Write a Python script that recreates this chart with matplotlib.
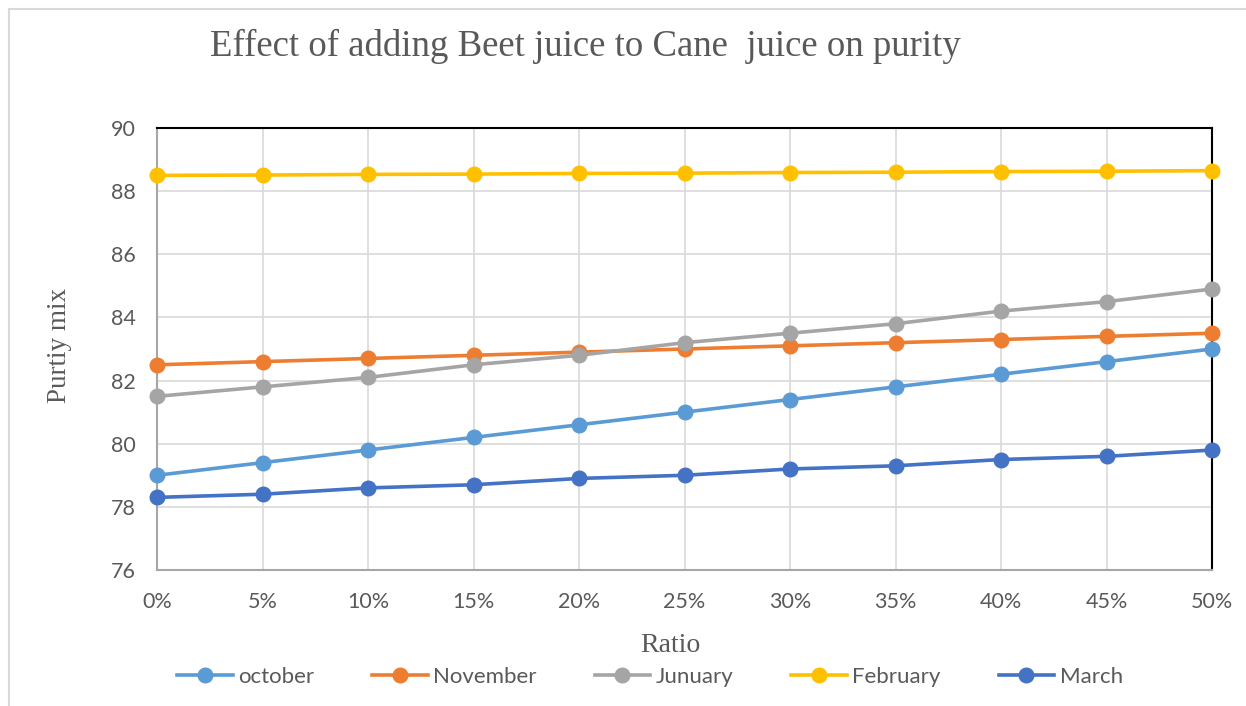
import matplotlib.pyplot as plt
from matplotlib.patches import Rectangle

ratios = ["0%", "5%", "10%", "15%", "20%", "25%", "30%", "35%", "40%", "45%", "50%"]
october = [79.0, 79.4, 79.8, 80.2, 80.6, 81.0, 81.4, 81.8, 82.2, 82.6, 83.0]
november = [82.5, 82.6, 82.7, 82.8, 82.9, 83.0, 83.1, 83.2, 83.3, 83.4, 83.5]
junuary = [81.5, 81.8, 82.1, 82.5, 82.8, 83.2, 83.5, 83.8, 84.2, 84.5, 84.9]
february = [88.50, 88.51, 88.53, 88.54, 88.56, 88.57, 88.59, 88.60, 88.62, 88.63, 88.65]
march = [78.3, 78.4, 78.6, 78.7, 78.9, 79.0, 79.2, 79.3, 79.5, 79.6, 79.8]

series = [
    ("october", october, "#5B9BD5"),
    ("November", november, "#ED7D31"),
    ("Junuary", junuary, "#A5A5A5"),
    ("February", february, "#FFC000"),
    ("March", march, "#4472C4"),
]

text_col = "#595959"
sans = ["Lato", "DejaVu Sans"]
serif = ["Liberation Serif", "DejaVu Serif"]

fig = plt.figure(figsize=(12.46, 7.06), dpi=100)
fig.patches.append(Rectangle((9 / 1246, -0.1), 1.2, 1 - 9 / 706 + 0.1,
                             transform=fig.transFigure, fill=False,
                             edgecolor="#D9D9D9", linewidth=1.5))

ax = fig.add_axes([157 / 1246, 1 - 570 / 706, (1212 - 157) / 1246, (570 - 128) / 706])

x = list(range(len(ratios)))
for name, vals, col in series:
    ax.plot(x, vals, color=col, linewidth=2.6, marker="o", markersize=10.5,
            label=name, clip_on=False, zorder=3)

ax.set_xlim(0, len(ratios) - 1)
ax.set_ylim(76, 90)
ax.set_yticks(range(76, 91, 2))
ax.set_xticks(x)
ax.set_xticklabels(ratios)
ax.grid(True, color="#D9D9D9", linewidth=1.2)
ax.set_axisbelow(True)
ax.tick_params(length=0, labelsize=15.5, labelcolor=text_col)
ax.tick_params(axis="y", pad=15)
ax.tick_params(axis="x", pad=16)
for lab in ax.get_xticklabels() + ax.get_yticklabels():
    lab.set_family(sans)

for side in ["top", "right"]:
    ax.spines[side].set_color("black")
    ax.spines[side].set_linewidth(1.5)
for side in ["left", "bottom"]:
    ax.spines[side].set_color("#A6A6A6")
    ax.spines[side].set_linewidth(1.5)

fig.text(585 / 1246, 1 - 46 / 706, "Effect of adding Beet juice to Cane  juice on purity",
         ha="center", va="center", fontsize=26.5, color=text_col, family=serif)
fig.text(670 / 1246, 1 - 645 / 706, "Ratio", ha="center", va="center",
         fontsize=20, color=text_col, family=serif)
fig.text(60 / 1246, 1 - 345 / 706, "Purtiy mix", ha="center", va="center",
         rotation=90, fontsize=19.5, color=text_col, family=serif)

leg = fig.legend(loc="center", bbox_to_anchor=(650 / 1246, 1 - 677 / 706), ncol=5,
                 frameon=False, handlelength=2.5, handletextpad=0.25,
                 columnspacing=2.6, prop={"family": sans, "size": 16})
for t in leg.get_texts():
    t.set_color(text_col)

fig.savefig("out.png", dpi=100)
